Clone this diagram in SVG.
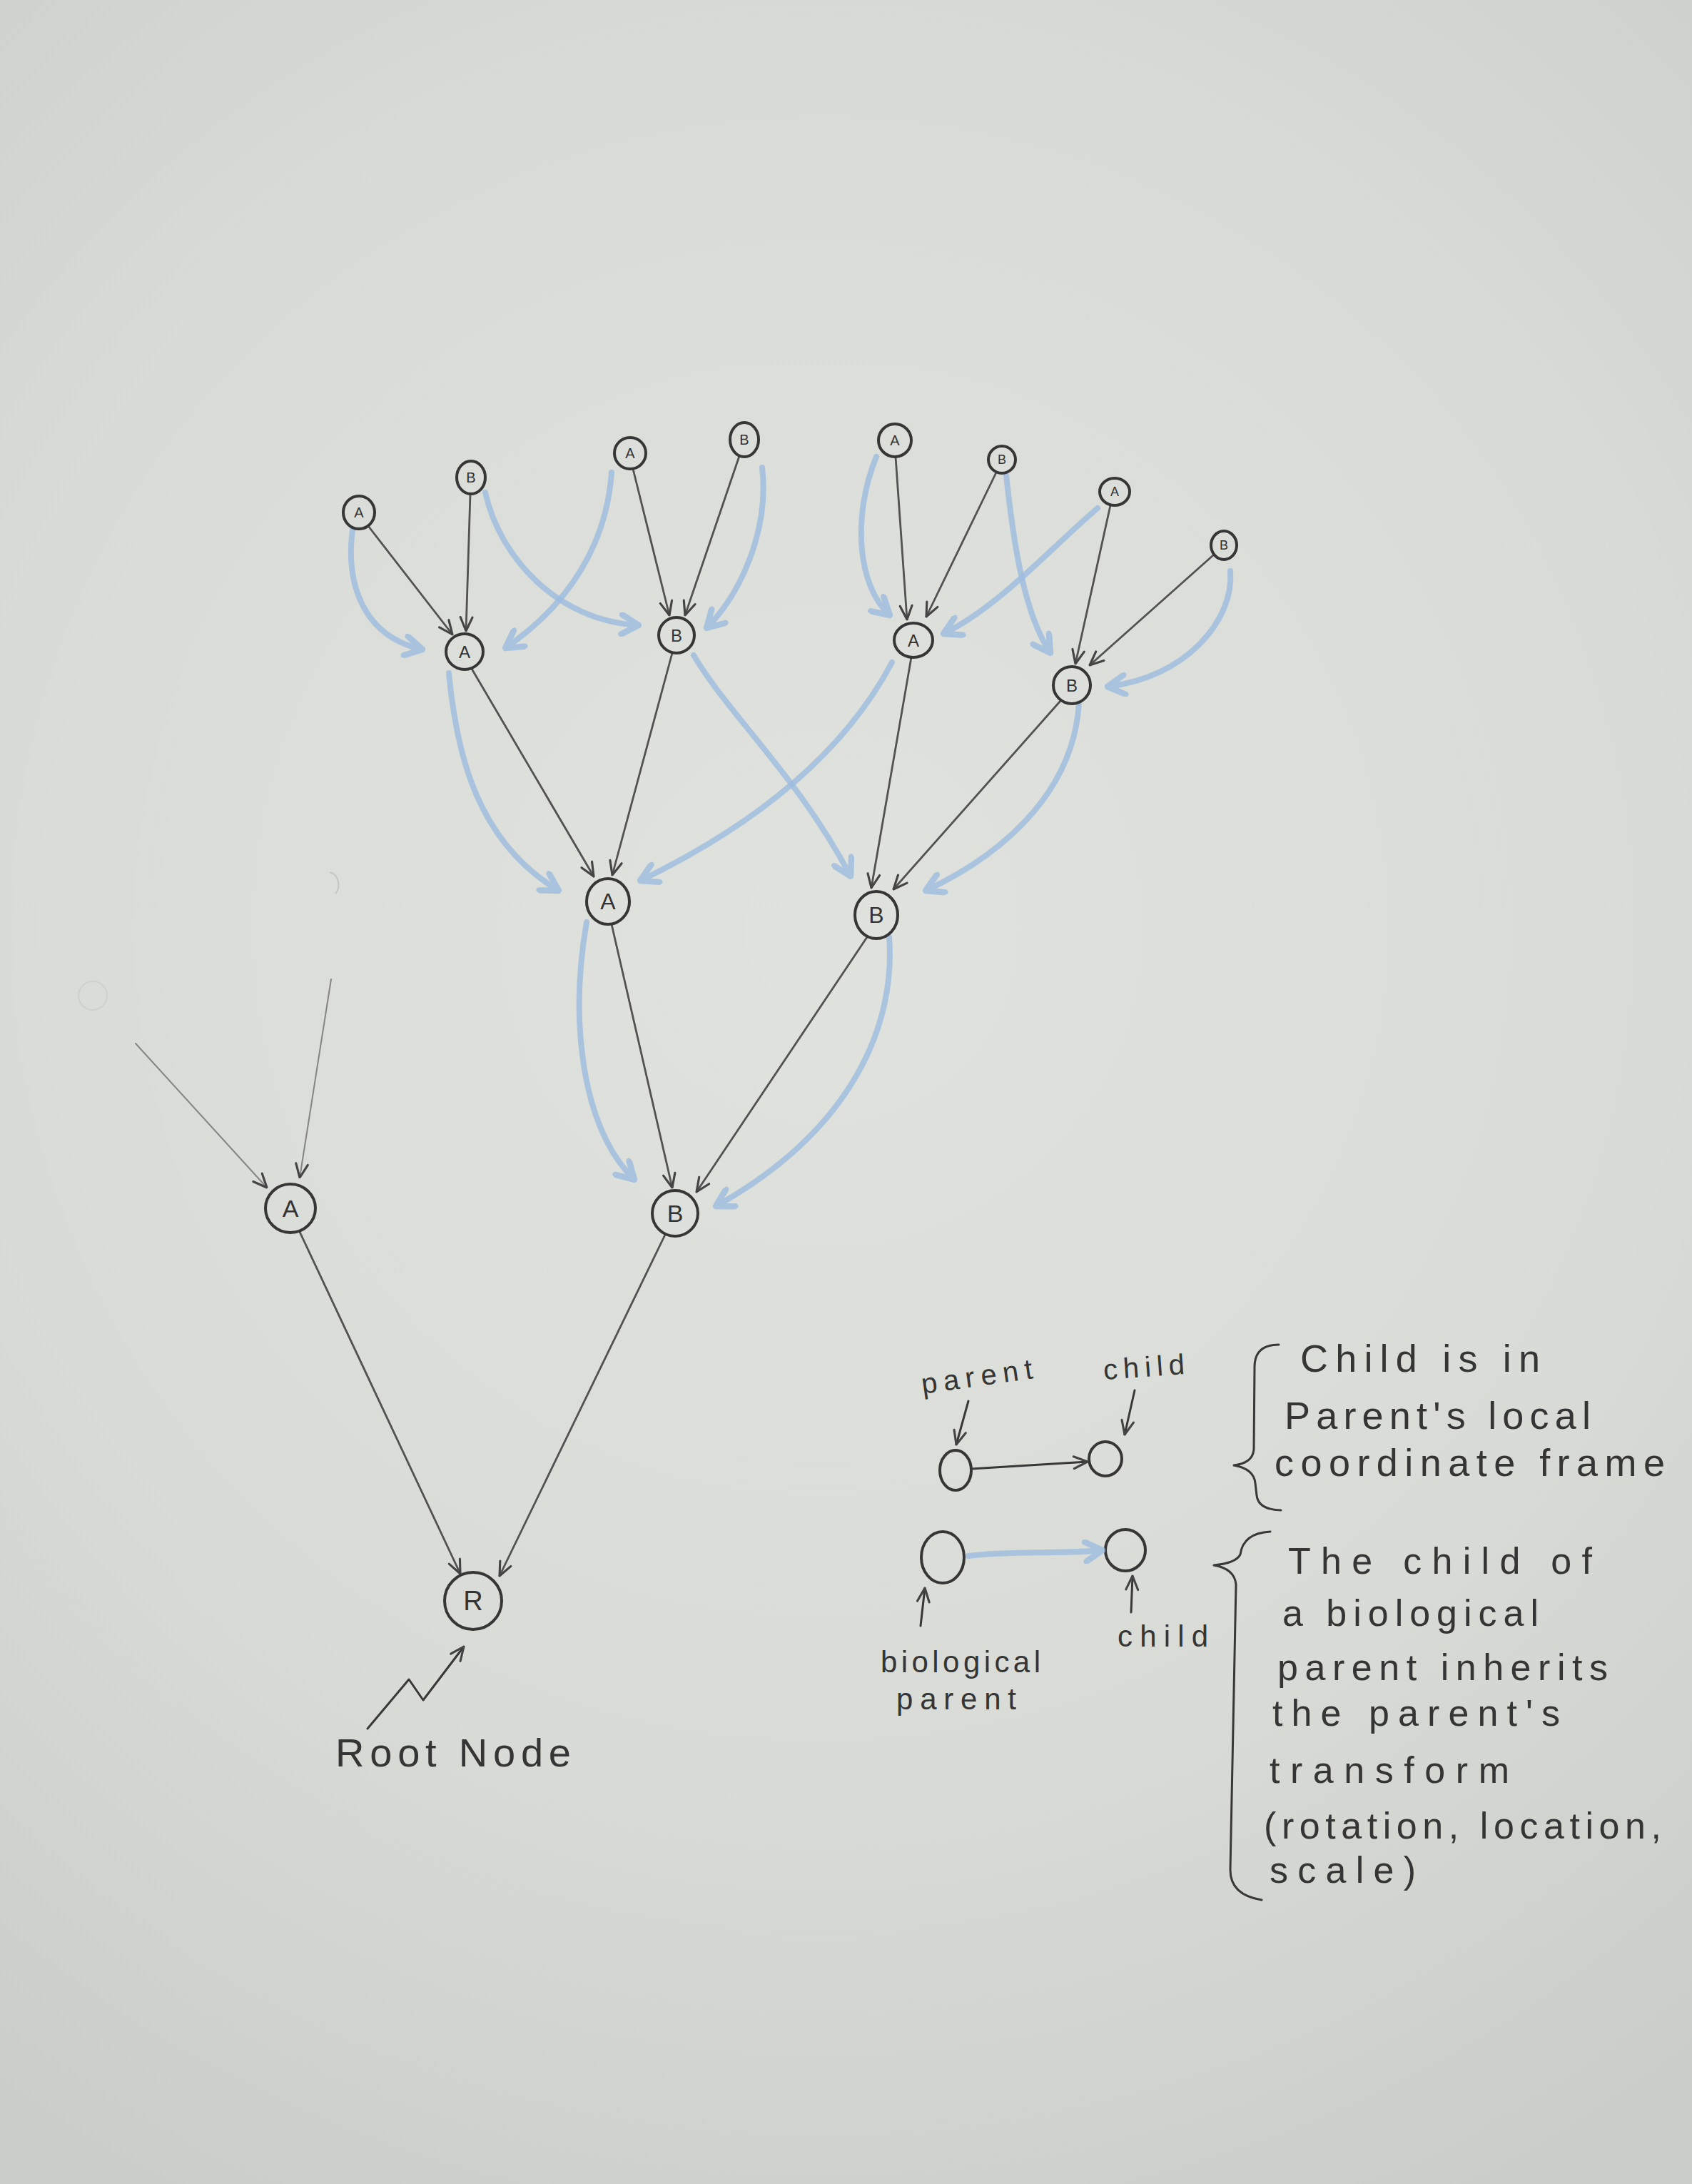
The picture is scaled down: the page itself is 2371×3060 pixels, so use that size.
<svg xmlns="http://www.w3.org/2000/svg" width="2371" height="3060" viewBox="0 0 2371 3060">
<defs>
<radialGradient id="paper" cx="1150" cy="1300" r="2000" gradientUnits="userSpaceOnUse">
<stop offset="0" stop-color="#e0e2dd"/>
<stop offset="0.6" stop-color="#d9dcd6"/>
<stop offset="1" stop-color="#cbcec8"/>
</radialGradient>
<marker id="ak" viewBox="0 0 20 20" refX="19" refY="10" markerWidth="24" markerHeight="24" markerUnits="userSpaceOnUse" orient="auto">
<path d="M3,3 L19,10 L3,17" fill="none" stroke="#444444" stroke-width="2.6" stroke-linecap="round" stroke-linejoin="round"/>
</marker>
<marker id="ab" viewBox="0 0 20 20" refX="18" refY="10" markerWidth="34" markerHeight="34" markerUnits="userSpaceOnUse" orient="auto">
<path d="M4,2 L18,10 L4,18" fill="none" stroke="#9dbde0" stroke-width="5" stroke-linecap="round" stroke-linejoin="round"/>
</marker>
<style>
.edge{fill:none;stroke:#525252;stroke-width:2.8;stroke-linecap:round;marker-end:url(#ak)}
.faint{fill:none;stroke:#858585;stroke-width:2;stroke-linecap:round;marker-end:url(#ak)}
.blue{fill:none;stroke:#9dbde0;stroke-width:8;stroke-linecap:round;opacity:0.8;marker-end:url(#ab)}
.node{fill:none;stroke:#363636;stroke-width:4}
.lbl{font-family:"Liberation Sans",Arial,sans-serif;fill:#333333;text-anchor:middle;dominant-baseline:central}
.hand{font-family:"Liberation Sans",Arial,sans-serif;fill:#353535}
.ink{fill:none;stroke:#383838;stroke-width:3;stroke-linecap:round;stroke-linejoin:round}
</style>
</defs>
<rect width="2371" height="3060" fill="url(#paper)"/>

<!-- faint erased marks -->
<path d="M462 1222 A16 18 0 0 1 470 1252" fill="none" stroke="#c3c6c1" stroke-width="2"/>
<circle cx="130" cy="1395" r="20" fill="none" stroke="#cdd0cb" stroke-width="2"/>

<g id="connectors">
<path class="edge" d="M516 737 L634 889"/>
<path class="edge" d="M659 692 L653 884"/>
<path class="edge" d="M887 657 L938 862"/>
<path class="edge" d="M1036 639 L960 862"/>
<path class="edge" d="M1255 640 L1271 868"/>
<path class="edge" d="M1396 662 L1298 864"/>
<path class="edge" d="M1556 708 L1507 930"/>
<path class="edge" d="M1700 778 L1527 932"/>
<path class="edge" d="M661 937 L832 1228"/>
<path class="edge" d="M942 915 L858 1226"/>
<path class="edge" d="M1277 921 L1221 1244"/>
<path class="edge" d="M1486 982 L1252 1246"/>
<path class="edge" d="M857 1295 L942 1664"/>
<path class="edge" d="M1215 1313 L976 1670"/>
<path class="faint" d="M190 1462 L374 1664"/>
<path class="faint" d="M464 1372 L420 1650"/>
<path class="edge" d="M420 1726 L645 2205"/>
<path class="edge" d="M932 1730 L700 2208"/>

<path class="blue" d="M494 742 C484 820, 510 892, 592 910"/>
<path class="blue" d="M857 662 C850 760, 800 845, 708 908"/>
<path class="blue" d="M680 690 C700 780, 780 870, 895 876"/>
<path class="blue" d="M1068 655 C1078 740, 1040 830, 990 880"/>
<path class="blue" d="M1228 640 C1195 720, 1200 820, 1247 862"/>
<path class="blue" d="M1538 712 C1470 770, 1400 850, 1322 888"/>
<path class="blue" d="M1410 666 C1420 760, 1435 860, 1472 915"/>
<path class="blue" d="M1724 800 C1730 870, 1660 950, 1552 962"/>
<path class="blue" d="M629 943 C640 1060, 670 1180, 783 1248"/>
<path class="blue" d="M1250 928 C1180 1060, 1050 1160, 897 1234"/>
<path class="blue" d="M972 918 C1020 1000, 1120 1090, 1192 1228"/>
<path class="blue" d="M1512 985 C1505 1100, 1420 1190, 1297 1248"/>
<path class="blue" d="M822 1292 C798 1430, 815 1580, 889 1653"/>
<path class="blue" d="M1246 1313 C1255 1430, 1200 1580, 1003 1690"/>
</g>

<g id="node-top-a1"><ellipse class="node" cx="503" cy="718" rx="22" ry="23"/><text class="lbl" x="503" y="718" font-size="20">A</text></g>
<g id="node-top-b1"><ellipse class="node" cx="660" cy="669" rx="20" ry="23"/><text class="lbl" x="660" y="669" font-size="20">B</text></g>
<g id="node-top-a2"><ellipse class="node" cx="883" cy="635" rx="22" ry="22"/><text class="lbl" x="883" y="635" font-size="20">A</text></g>
<g id="node-top-b2"><ellipse class="node" cx="1043" cy="616" rx="20" ry="24"/><text class="lbl" x="1043" y="616" font-size="20">B</text></g>
<g id="node-top-a3"><ellipse class="node" cx="1254" cy="617" rx="23" ry="23"/><text class="lbl" x="1254" y="617" font-size="20">A</text></g>
<g id="node-top-b3"><ellipse class="node" cx="1404" cy="644" rx="19" ry="19"/><text class="lbl" x="1404" y="644" font-size="18">B</text></g>
<g id="node-top-a4"><ellipse class="node" cx="1562" cy="689" rx="21" ry="19"/><text class="lbl" x="1562" y="689" font-size="18">A</text></g>
<g id="node-top-b4"><ellipse class="node" cx="1715" cy="764" rx="18" ry="20"/><text class="lbl" x="1715" y="764" font-size="18">B</text></g>

<g id="node-l3-a1"><ellipse class="node" cx="651" cy="913" rx="26" ry="25"/><text class="lbl" x="651" y="913" font-size="24">A</text></g>
<g id="node-l3-b1"><ellipse class="node" cx="948" cy="890" rx="25" ry="25"/><text class="lbl" x="948" y="890" font-size="24">B</text></g>
<g id="node-l3-a2"><ellipse class="node" cx="1280" cy="897" rx="27" ry="24"/><text class="lbl" x="1280" y="897" font-size="24">A</text></g>
<g id="node-l3-b2"><ellipse class="node" cx="1502" cy="960" rx="26" ry="26"/><text class="lbl" x="1502" y="960" font-size="24">B</text></g>

<g id="node-l2-a"><ellipse class="node" cx="852" cy="1263" rx="30" ry="32"/><text class="lbl" x="852" y="1263" font-size="32">A</text></g>
<g id="node-l2-b"><ellipse class="node" cx="1228" cy="1282" rx="30" ry="33"/><text class="lbl" x="1228" y="1282" font-size="32">B</text></g>

<g id="node-l1-a"><ellipse class="node" cx="407" cy="1693" rx="35" ry="34"/><text class="lbl" x="407" y="1693" font-size="34">A</text></g>
<g id="node-l1-b"><ellipse class="node" cx="946" cy="1700" rx="32" ry="32"/><text class="lbl" x="946" y="1700" font-size="34">B</text></g>

<g id="node-root"><circle class="node" cx="663" cy="2243" r="40"/><text class="lbl" x="663" y="2243" font-size="38">R</text></g>

<g id="root-label">
<path class="ink" d="M515 2422 L573 2353 L593 2382 L650 2307" marker-end="url(#ak)"/>
<text class="hand" x="470" y="2475" font-size="56" textLength="330" lengthAdjust="spacing">Root Node</text>
</g>

<g id="legend-local">
<ellipse class="node" cx="1339" cy="2060" rx="22" ry="28" stroke-width="2.5"/>
<ellipse class="node" cx="1549" cy="2044" rx="23" ry="24" stroke-width="2.5"/>
<path class="ink" d="M1361 2058 L1524 2048" marker-end="url(#ak)"/>
<path class="ink" d="M1357 1963 L1340 2024" stroke-width="2.2" marker-end="url(#ak)"/>
<path class="ink" d="M1590 1948 L1576 2010" stroke-width="2.2" marker-end="url(#ak)"/>
<text class="hand" x="1293" y="1953" font-size="40" textLength="157" lengthAdjust="spacing" transform="rotate(-8 1293 1953)">parent</text>
<text class="hand" x="1547" y="1933" font-size="40" textLength="114" lengthAdjust="spacing" transform="rotate(-4 1547 1933)">child</text>
<path class="ink" d="M1792 1884 Q1758 1884 1758 1915 L1757 2030 Q1756 2050 1729 2053 Q1757 2058 1759 2078 L1761 2095 Q1763 2115 1795 2116"/>
<text class="hand" x="1822" y="1922" font-size="54" textLength="336" lengthAdjust="spacing">Child is in</text>
<text class="hand" x="1800" y="2002" font-size="54" textLength="429" lengthAdjust="spacing">Parent's local</text>
<text class="hand" x="1786" y="2068" font-size="54" textLength="547" lengthAdjust="spacing">coordinate frame</text>
</g>

<g id="legend-biological">
<ellipse class="node" cx="1321" cy="2182" rx="30" ry="36" stroke-width="2.5"/>
<ellipse class="node" cx="1577" cy="2172" rx="28" ry="29" stroke-width="2.5"/>
<path class="blue" d="M1357 2180 C1420 2172, 1480 2178, 1545 2172"/>
<path class="ink" d="M1290 2278 L1296 2225" stroke-width="2.2" marker-end="url(#ak)"/>
<path class="ink" d="M1585 2259 L1587 2208" stroke-width="2.2" marker-end="url(#ak)"/>
<text class="hand" x="1234" y="2343" font-size="42" textLength="224" lengthAdjust="spacing">biological</text>
<text class="hand" x="1256" y="2395" font-size="42" textLength="168" lengthAdjust="spacing">parent</text>
<text class="hand" x="1566" y="2307" font-size="42" textLength="127" lengthAdjust="spacing">child</text>
<path class="ink" d="M1780 2146 Q1742 2148 1738 2178 Q1732 2190 1701 2193 Q1730 2198 1732 2220 L1724 2620 Q1724 2655 1768 2662"/>
<text class="hand" x="1805" y="2205" font-size="52" textLength="426" lengthAdjust="spacing">The child of</text>
<text class="hand" x="1797" y="2278" font-size="52" textLength="359" lengthAdjust="spacing">a biological</text>
<text class="hand" x="1790" y="2354" font-size="52" textLength="463" lengthAdjust="spacing">parent inherits</text>
<text class="hand" x="1783" y="2418" font-size="52" textLength="403" lengthAdjust="spacing">the parent's</text>
<text class="hand" x="1779" y="2498" font-size="52" textLength="336" lengthAdjust="spacing">transform</text>
<text class="hand" x="1771" y="2576" font-size="52" textLength="557" lengthAdjust="spacing">(rotation, location,</text>
<text class="hand" x="1779" y="2638" font-size="52" textLength="205" lengthAdjust="spacing">scale)</text>
</g>
</svg>
